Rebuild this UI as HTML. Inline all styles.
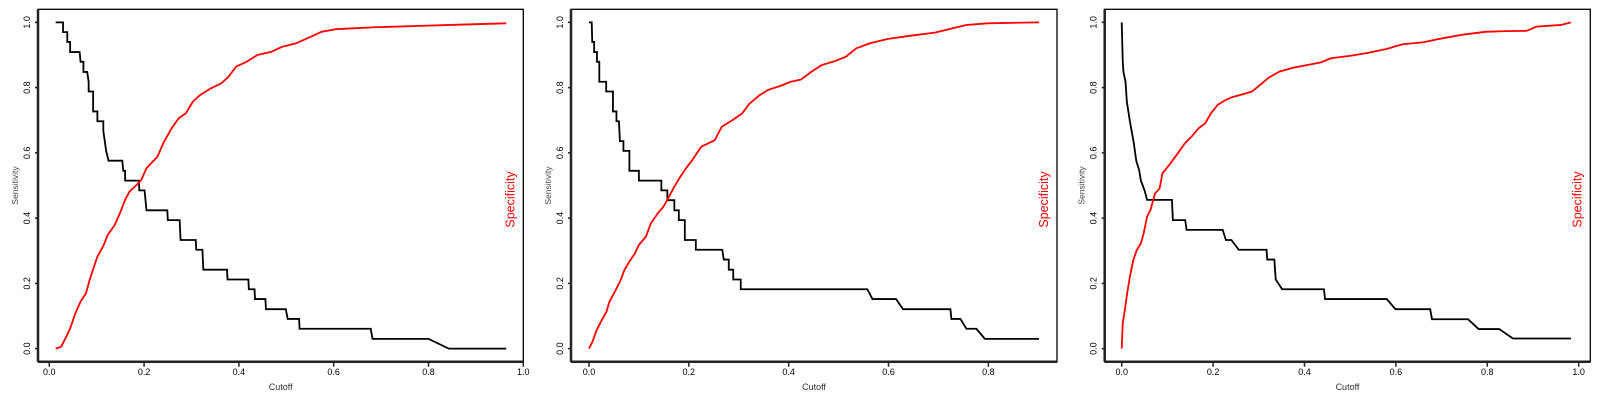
<!DOCTYPE html>
<html><head><meta charset="utf-8"><style>
html,body{margin:0;padding:0;background:#fff;}
svg{display:block;font-family:"Liberation Sans",sans-serif;}
</style></head><body>
<svg id="chart" width="1600" height="400" viewBox="0 0 1600 400" xmlns="http://www.w3.org/2000/svg"></svg>
<script>
// Panel 1 data
const p1Cutoff = [0.0135,0.029,0.029,0.038,0.038,0.044,0.044,0.064,0.066,0.072,0.072,0.080,0.083,0.083,0.0925,0.0925,0.1015,0.1015,0.114,0.114,0.12,0.125,0.154,0.156,0.160,0.160,0.189,0.190,0.201,0.205,0.249,0.250,0.275,0.277,0.309,0.310,0.323,0.325,0.375,0.376,0.420,0.421,0.433,0.434,0.456,0.457,0.499,0.503,0.527,0.528,0.678,0.682,0.80,0.843,0.964];
const p1Sens   = [1.0,1.0,0.970,0.970,0.940,0.940,0.909,0.909,0.879,0.879,0.848,0.848,0.818,0.788,0.788,0.727,0.727,0.697,0.697,0.667,0.606,0.576,0.576,0.545,0.545,0.515,0.515,0.485,0.485,0.424,0.424,0.394,0.394,0.333,0.333,0.303,0.303,0.242,0.242,0.212,0.212,0.182,0.182,0.152,0.152,0.121,0.121,0.091,0.091,0.061,0.061,0.030,0.030,0.0,0.0];
const p1SpecX = [0.0135,0.025,0.036,0.044,0.055,0.066,0.0775,0.085,0.094,0.1015,0.115,0.123,0.138,0.149,0.160,0.169,0.183,0.194,0.205,0.228,0.242,0.258,0.273,0.288,0.303,0.318,0.341,0.363,0.378,0.394,0.416,0.439,0.469,0.491,0.521,0.552,0.574,0.604,0.687,0.80,0.845,0.964];
const p1Spec  = [0.0,0.006,0.037,0.062,0.108,0.144,0.17,0.21,0.25,0.282,0.318,0.348,0.379,0.415,0.456,0.481,0.50,0.517,0.553,0.588,0.634,0.675,0.706,0.721,0.757,0.777,0.798,0.813,0.833,0.864,0.879,0.90,0.91,0.925,0.936,0.956,0.971,0.979,0.985,0.990,0.992,0.997];
const p1Ticks = ["0.0","0.2","0.4","0.6","0.8","1.0"];

// Panel 2 data
const p2Cutoff = [0,0.0055,0.0065,0.0104,0.0104,0.016,0.016,0.0207,0.0207,0.0345,0.0345,0.048,0.048,0.055,0.055,0.060,0.062,0.069,0.069,0.081,0.081,0.100,0.100,0.145,0.145,0.157,0.157,0.171,0.171,0.180,0.180,0.192,0.192,0.214,0.214,0.267,0.270,0.28,0.28,0.289,0.289,0.304,0.304,0.5575,0.568,0.615,0.629,0.724,0.726,0.744,0.756,0.776,0.793,0.9015];
const p2Sens   = [1.0,1.0,0.94,0.94,0.909,0.909,0.879,0.879,0.818,0.818,0.788,0.788,0.727,0.727,0.697,0.697,0.636,0.636,0.606,0.606,0.545,0.545,0.515,0.515,0.485,0.485,0.455,0.455,0.424,0.424,0.394,0.394,0.333,0.333,0.303,0.303,0.273,0.273,0.242,0.242,0.212,0.212,0.182,0.182,0.152,0.152,0.121,0.121,0.091,0.091,0.061,0.061,0.030,0.030];
const p2SpecX = [0,0.007,0.014,0.024,0.035,0.041,0.052,0.062,0.071,0.081,0.092,0.100,0.114,0.124,0.138,0.149,0.157,0.169,0.183,0.193,0.207,0.225,0.252,0.266,0.287,0.307,0.321,0.342,0.359,0.383,0.404,0.425,0.446,0.466,0.494,0.515,0.535,0.563,0.598,0.639,0.694,0.729,0.756,0.798,0.9015];
const p2Spec  = [0,0.021,0.052,0.083,0.113,0.144,0.175,0.205,0.241,0.267,0.292,0.318,0.343,0.384,0.415,0.435,0.456,0.491,0.527,0.55,0.578,0.619,0.639,0.680,0.70,0.721,0.75,0.777,0.793,0.805,0.818,0.825,0.849,0.869,0.882,0.895,0.920,0.936,0.949,0.958,0.969,0.982,0.992,0.997,1.0];
const p2Ticks = ["0.0","0.2","0.4","0.6","0.8"];

// Panel 3 data
const p3Cutoff = [0,0.0023,0.0038,0.0083,0.0113,0.018,0.026,0.032,0.038,0.042,0.050,0.0556,0.11,0.112,0.139,0.142,0.221,0.228,0.24,0.256,0.317,0.3185,0.334,0.337,0.351,0.4425,0.445,0.58,0.599,0.675,0.679,0.758,0.781,0.826,0.856,0.983];
const p3Sens   = [1.0,0.88,0.848,0.818,0.757,0.696,0.634,0.575,0.548,0.515,0.485,0.456,0.456,0.394,0.394,0.364,0.364,0.333,0.333,0.303,0.303,0.273,0.273,0.212,0.182,0.182,0.152,0.152,0.121,0.121,0.09,0.09,0.06,0.06,0.031,0.031];
const p3SpecX = [0,0.0023,0.0068,0.012,0.018,0.0255,0.033,0.042,0.048,0.0556,0.063,0.073,0.083,0.089,0.104,0.123,0.138,0.153,0.168,0.183,0.195,0.210,0.225,0.24,0.263,0.285,0.307,0.322,0.345,0.375,0.405,0.435,0.458,0.503,0.540,0.578,0.615,0.66,0.69,0.75,0.796,0.841,0.886,0.908,0.961,0.983];
const p3Spec  = [0,0.078,0.118,0.17,0.221,0.272,0.302,0.323,0.353,0.405,0.425,0.476,0.491,0.537,0.563,0.599,0.629,0.65,0.675,0.691,0.721,0.747,0.76,0.77,0.779,0.788,0.813,0.831,0.849,0.861,0.869,0.877,0.89,0.898,0.907,0.918,0.933,0.939,0.948,0.963,0.971,0.973,0.974,0.987,0.992,1.0];
const p3Ticks = ["0.0","0.2","0.4","0.6","0.8","1.0"];

const yTicks = ["0.0","0.2","0.4","0.6","0.8","1.0"];

const NS = "http://www.w3.org/2000/svg";
const svg = document.getElementById("chart");
function mk(tag, attrs, parent) {
  const e = document.createElementNS(NS, tag);
  for (const k in attrs) e.setAttribute(k, attrs[k]);
  (parent || svg).appendChild(e);
  return e;
}
const TOP = 9.3, BOT = 361.7;
const yScale = v => BOT - (v + 0.04) / 1.08 * (BOT - TOP);

const panels = [
  {left:38, right:523.3, umin:-0.0238, umax:1.0, cx:p1Cutoff, sens:p1Sens, sx:p1SpecX, spec:p1Spec, ticks:p1Ticks},
  {left:571, right:1057, umin:-0.036, umax:0.9375, cx:p2Cutoff, sens:p2Sens, sx:p2SpecX, spec:p2Spec, ticks:p2Ticks},
  {left:1104.7, right:1590.3, umin:-0.0372, umax:1.0254, cx:p3Cutoff, sens:p3Sens, sx:p3SpecX, spec:p3Spec, ticks:p3Ticks}
];

panels.forEach((p, i) => {
  const g = mk("g", {});
  
  
  const xs = v => p.left + (v - p.umin) / (p.umax - p.umin) * (p.right - p.left);

  const box = mk("rect", {x:p.left, y:TOP, width:p.right - p.left, height:BOT - TOP, fill:"none", stroke:"#000", "stroke-width":1.3}, g);
  
  

  // x axis
  const xa = mk("g", {}, g);
  
  
  mk("line", {x1:p.left, x2:p.right, y1:BOT, y2:BOT, stroke:"#222", "stroke-width":2.5}, xa);
  p.ticks.forEach(t => {
    const x = xs(parseFloat(t));
    mk("line", {x1:x, x2:x, y1:BOT, y2:BOT + 5, stroke:"#222", "stroke-width":1.5}, xa);
    const lb = mk("text", {x:x, y:375, "font-size":9, "text-anchor":"middle", fill:"#000"}, xa);
    lb.textContent = t;
    
    
  });
  const xt = mk("text", {x:(p.left + p.right) / 2, y:390, "font-size":9, "text-anchor":"middle", fill:"#333"}, g);
  xt.textContent = "Cutoff";
  
  

  // y axis
  const ya = mk("g", {}, g);
  
  
  mk("line", {x1:p.left, x2:p.left, y1:TOP, y2:BOT, stroke:"#222", "stroke-width":2.5}, ya);
  yTicks.forEach(t => {
    const y = yScale(parseFloat(t));
    mk("line", {x1:p.left - 3, x2:p.left, y1:y, y2:y, stroke:"#222", "stroke-width":1.5}, ya);
    const lx = p.left - 8;
    const lb = mk("text", {x:lx, y:y, "font-size":9, "text-anchor":"middle", transform:"rotate(-90 " + lx + " " + y + ")", fill:"#000"}, ya);
    lb.textContent = t;
    
    
  });
  const yx = p.left - 20, yy = (TOP + BOT) / 2;
  const yt = mk("text", {x:yx, y:yy, "font-size":8.5, "text-anchor":"middle", transform:"rotate(-90 " + yx + " " + yy + ")", fill:"#444"}, g);
  yt.textContent = "Sensitivity";
  
  

  const sx = p.right - 9, sy = (TOP + BOT) / 2 + 14;
  const st = mk("text", {x:sx, y:sy, "font-size":12.5, "text-anchor":"middle", transform:"rotate(-90 " + sx + " " + sy + ")", fill:"#ff0000"}, g);
  st.textContent = "Specificity";
  
  

  // series
  const sensPts = p.cx.map((c, k) => xs(c).toFixed(2) + "," + yScale(p.sens[k]).toFixed(2)).join(" ");
  const sl = mk("polyline", {points:sensPts, fill:"none", stroke:"#000", "stroke-width":1.8, "stroke-linejoin":"miter"}, g);
  
  

  const specPts = p.sx.map((c, k) => xs(c).toFixed(2) + "," + yScale(p.spec[k]).toFixed(2)).join(" ");
  const rl = mk("polyline", {points:specPts, fill:"none", stroke:"#ff0000", "stroke-width":1.8, "stroke-linejoin":"round"}, g);
  
  
});
</script>
</body></html>
